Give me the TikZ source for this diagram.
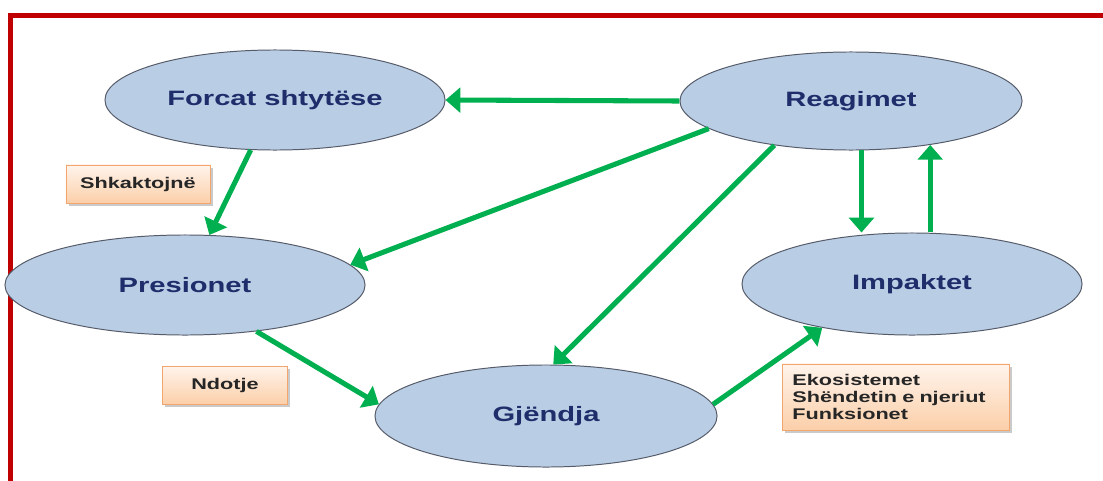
\documentclass[tikz,border=0pt]{standalone}
\usepackage{fontspec}
\newfontfamily\widesans[FakeStretch=1.4]{Liberation Sans}
\usetikzlibrary{shapes.geometric,arrows.meta,shadows}

\definecolor{ellfill}{HTML}{B9CDE5}
\definecolor{ellline}{HTML}{555B68}
\definecolor{navy}{HTML}{1F2D6B}
\definecolor{arrgreen}{HTML}{00B050}
\definecolor{framered}{HTML}{C00000}
\definecolor{tagtop}{HTML}{FFF4EC}
\definecolor{tagbot}{HTML}{FBCFA9}
\definecolor{tagline}{HTML}{F2A66E}
\definecolor{tagtext}{HTML}{262626}

\tikzset{
    state/.style={ellipse, draw=ellline, line width=0.7pt, fill=ellfill, inner sep=0pt,
        text=navy, font=\widesans\bfseries\fontsize{14.8}{16}\selectfont},
    tag/.style={rectangle, draw=tagline, line width=0.6pt, top color=tagtop, bottom color=tagbot,
        inner sep=0pt, text=tagtext, font=\widesans\bfseries\fontsize{11}{12}\selectfont,
        drop shadow={shadow xshift=2pt, shadow yshift=-2pt, fill=black!35, opacity=0.6}},
    flow/.style={draw=arrgreen, line width=3.6pt, -{Triangle[length=10.5pt,width=17.5pt]}}
}

\begin{document}
\begin{tikzpicture}[x=0.025cm, y=-0.025cm]
    \useasboundingbox (0, 0) rectangle (1103, 480);
    \draw[framered, line width=3.4pt] (10.5, 484) -- (10.5, 15.5) -- (1106, 15.5);

    \node[state, minimum width=8.5cm, minimum height=2.5cm] (forc) at (275, 100) {Forcat shtytëse};
    \node[state, minimum width=8.55cm, minimum height=2.45cm] (reag) at (851, 101) {Reagimet};
    \node[state, minimum width=9cm, minimum height=2.5cm] (pres) at (185, 285) {Presionet};
    \node[state, minimum width=8.5cm, minimum height=2.55cm] (imp) at (912, 284) {Impaktet};
    \node[state, minimum width=8.55cm, minimum height=2.55cm] (gjen) at (546, 416) {Gjëndja};

    \node[tag, minimum width=3.6cm, minimum height=0.95cm] (shk) at (138, 184) {Shkaktojnë};
    \node[tag, minimum width=3.125cm, minimum height=0.95cm] (ndo) at (225, 385) {Ndotje};
    \node[tag, minimum height=1.65cm, inner xsep=0.25cm, text width=5.175cm, align=left] (eko) at (896, 397)
        {Ekosistemet\\Shëndetin e njeriut\\Funksionet};

    \draw[flow] (reag.west) -- (forc.east);
    \draw[flow] (forc) -- (pres);
    \draw[flow] (reag.191) -- (pres.7.5);
    \draw[flow] (reag.210.5) -- (gjen.82);
    \draw[flow] (reag.282) -- (reag.282 |- imp.north);
    \draw[flow] (reag.331 |- imp.north) -- (reag.331);
    \draw[flow] (pres.327) -- (gjen.176);
    \draw[flow] (gjen.4) -- (imp.206.8);
\end{tikzpicture}
\end{document}
